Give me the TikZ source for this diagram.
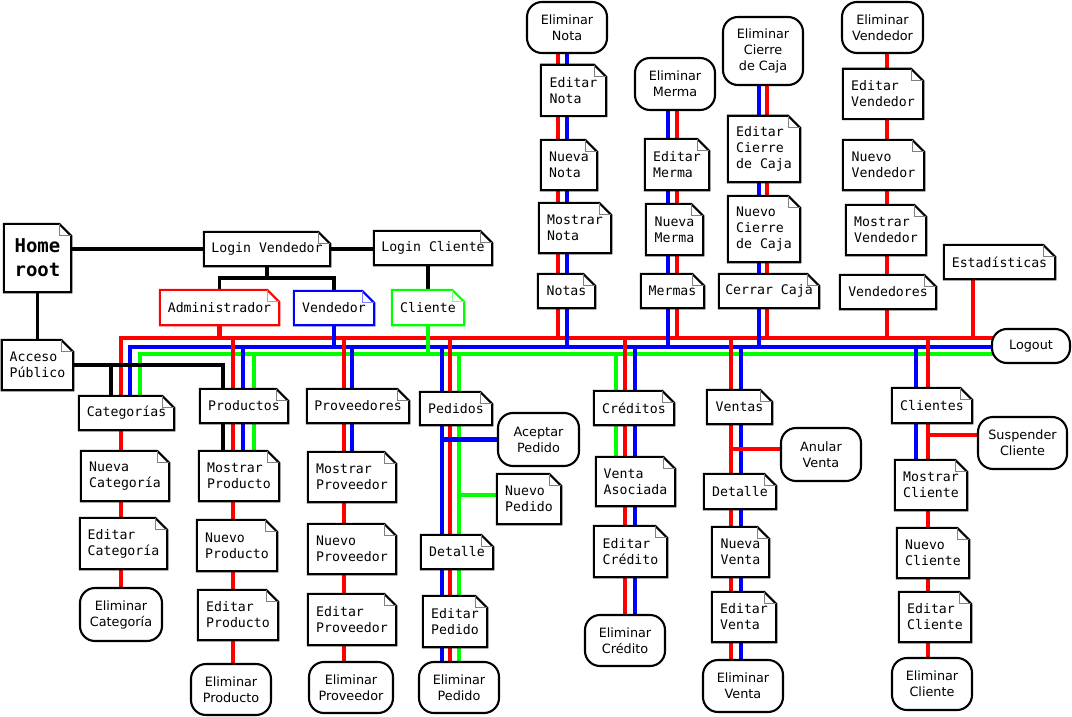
\documentclass[tikz,border=0pt]{standalone}
\usepackage{fontspec}
\setmonofont{DejaVu Sans Mono}
\setsansfont{DejaVu Sans}
\usepackage{tikz}
\usetikzlibrary{backgrounds}
\definecolor{wirered}{RGB}{255, 0, 0}
\definecolor{wireblue}{RGB}{0, 0, 255}
\definecolor{wiregreen}{RGB}{0, 255, 0}

\begin{document}
\begin{tikzpicture}[x=1pt, y=-1pt,
    page/.style={inner sep=2pt, align=left,
                 font=\ttfamily\fontsize{13.2}{16}\selectfont,
                 append after command={\pgfextra{
                   \draw[line width=2.1pt, draw=#1, fill=white, line join=miter]
                     (\tikzlastnode.south west) -- (\tikzlastnode.north west)
                     -- ([xshift=-12pt]\tikzlastnode.north east)
                     -- ([yshift=-12pt]\tikzlastnode.north east)
                     -- (\tikzlastnode.south east) -- cycle;
                   \draw[line width=0.8pt, draw=#1!50]
                     ([xshift=-12pt]\tikzlastnode.north east)
                     |- ([yshift=-12pt]\tikzlastnode.north east);}}},
    page/.default=black,
    endpage/.style={draw, line width=2.1pt, rounded corners=15pt, fill=white,
                    align=center, inner sep=2pt,
                    font=\sffamily\fontsize{12.8}{16}\selectfont},
    wh/.style 2 args={minimum width=#1pt, minimum height=#2pt},
    redwire/.style={draw=wirered, line width=4.4pt},
    bluewire/.style={draw=wireblue, line width=4.4pt},
    greenwire/.style={draw=wiregreen, line width=4.4pt},
    blackwire/.style={draw=black, line width=3.3pt}
]
    \useasboundingbox (0,0) rectangle (1072,717);

    % Entry and login
    \node[page, wh={67}{68}, align=center,
          font=\ttfamily\bfseries\fontsize{19}{24}\selectfont] (home) at (37.5,258) {Home\\root};
    \node[page, wh={126}{34}] (loginv) at (267,249) {Login Vendedor};
    \node[page, wh={118}{34}] (loginc) at (433,248) {Login Cliente};
    \node[page=wirered, wh={119}{35}] (admin) at (219.5,307.5) {Administrador};
    \node[page=wireblue, wh={80}{34}] (vend) at (334,308) {Vendedor};
    \node[page=wiregreen, wh={72}{35}] (cli) at (428,307.5) {Cliente};
    \node[page, wh={71}{50}] (acceso) at (37.5,365) {Acceso\\Público};
    \node[endpage, wh={78}{34}] (logout) at (1031,346) {Logout};

    % Categorias
    \node[page, wh={95}{34}] (cat) at (126.5,413) {Categorías};
    \node[page, wh={88}{50}] (catnew) at (125,476) {Nueva\\Categoría};
    \node[page, wh={87}{51}] (catedit) at (123.5,543.5) {Editar\\Categoría};
    \node[endpage, wh={82}{53}] (catdel) at (121,614.5) {Eliminar\\Categoría};

    % Productos
    \node[page, wh={88}{34}] (prod) at (244,406) {Productos};
    \node[page, wh={80}{50}] (prodshow) at (239,476) {Mostrar\\Producto};
    \node[page, wh={80}{51}] (prodnew) at (237,545.5) {Nuevo\\Producto};
    \node[page, wh={80}{50}] (prodedit) at (238,615) {Editar\\Producto};
    \node[endpage, wh={80}{51}] (proddel) at (231,689.5) {Eliminar\\Producto};

    % Proveedores
    \node[page, wh={102}{34}] (prov) at (358,406) {Proveedores};
    \node[page, wh={88}{50}] (provshow) at (352,477) {Mostrar\\Proveedor};
    \node[page, wh={88}{50}] (provnew) at (352,549) {Nuevo\\Proveedor};
    \node[page, wh={88}{51}] (provedit) at (352,619.5) {Editar\\Proveedor};
    \node[endpage, wh={84}{51}] (provdel) at (351,687.5) {Eliminar\\Proveedor};

    % Pedidos
    \node[page, wh={72}{33}] (ped) at (456,408.5) {Pedidos};
    \node[endpage, wh={81}{53}] (pedok) at (538.5,439.5) {Aceptar\\Pedido};
    \node[page, wh={64}{50}] (pednew) at (529,499) {Nuevo\\Pedido};
    \node[page, wh={72}{34}] (peddet) at (457,552) {Detalle};
    \node[page, wh={64}{51}] (pededit) at (455,621.5) {Editar\\Pedido};
    \node[endpage, wh={80}{51}] (peddel) at (459,687.5) {Eliminar\\Pedido};

    % Creditos
    \node[page, wh={80}{34}] (cred) at (634,408) {Créditos};
    \node[page, wh={79}{49}] (credvta) at (635.5,481.5) {Venta\\Asociada};
    \node[page, wh={73}{51}] (credit) at (630.5,551.5) {Editar\\Crédito};
    \node[endpage, wh={80}{51}] (creddel) at (625,640.5) {Eliminar\\Crédito};

    % Ventas
    \node[page, wh={65}{34}] (vta) at (739.5,407) {Ventas};
    \node[endpage, wh={80}{53}] (vtanul) at (821,454.5) {Anular\\Venta};
    \node[page, wh={72}{35}] (vtadet) at (740,491.5) {Detalle};
    \node[page, wh={57}{50}] (vtanew) at (740.5,552) {Nueva\\Venta};
    \node[page, wh={64}{50}] (vtaedit) at (744,617) {Editar\\Venta};
    \node[endpage, wh={80}{52}] (vtadel) at (743,686) {Eliminar\\Venta};

    % Clientes
    \node[page, wh={80}{35}] (clis) at (932,405.5) {Clientes};
    \node[endpage, wh={89}{52}] (clisusp) at (1022.5,443) {Suspender\\Cliente};
    \node[page, wh={72}{50}] (clishow) at (931,485) {Mostrar\\Cliente};
    \node[page, wh={72}{50}] (clinew) at (933,553) {Nuevo\\Cliente};
    \node[page, wh={72}{50}] (cliedit) at (935,617) {Editar\\Cliente};
    \node[endpage, wh={80}{52}] (clidel) at (932,684) {Eliminar\\Cliente};

    % Notas
    \node[page, wh={57}{34}] (notas) at (566.5,291) {Notas};
    \node[page, wh={72}{50}] (notashow) at (575,228) {Mostrar\\Nota};
    \node[page, wh={56}{50}] (notanew) at (569,165) {Nueva\\Nota};
    \node[page, wh={65}{51}] (notaedit) at (573.5,90.5) {Editar\\Nota};
    \node[endpage, wh={80}{51}] (notadel) at (567,27.5) {Eliminar\\Nota};

    % Mermas
    \node[page, wh={63}{34}] (mermas) at (672.5,291) {Mermas};
    \node[page, wh={57}{51}] (mermanew) at (674.5,229.5) {Nueva\\Merma};
    \node[page, wh={64}{51}] (mermaedit) at (677,164.5) {Editar\\Merma};
    \node[endpage, wh={80}{52}] (mermadel) at (675,84) {Eliminar\\Merma};

    % Cierre de caja
    \node[page, wh={100}{34}] (caja) at (769,291) {Cerrar Caja};
    \node[page, wh={72}{66}] (cajanew) at (764,229) {Nuevo\\Cierre\\de Caja};
    \node[page, wh={72}{66}] (cajaedit) at (764,149) {Editar\\Cierre\\de Caja};
    \node[endpage, wh={80}{68}] (cajadel) at (763,51) {Eliminar\\Cierre\\de Caja};

    % Vendedores
    \node[page, wh={96}{34}] (vends) at (888,292) {Vendedores};
    \node[page, wh={80}{50}] (vendshow) at (886,230) {Mostrar\\Vendedor};
    \node[page, wh={81}{50}] (vendnew) at (883.5,165) {Nuevo\\Vendedor};
    \node[page, wh={80}{50}] (vendedit) at (883,94) {Editar\\Vendedor};
    \node[endpage, wh={81}{51}] (venddel) at (882.5,27.5) {Eliminar\\Vendedor};

    \node[page, wh={111}{34}] (estad) at (999.5,262) {Estadísticas};

    \begin{scope}[on background layer]
    \fill[white] (0,0) rectangle (1072,717);

    % Buses
    \coordinate (rbus) at (121,338);
    \coordinate (bbus) at (130,347);
    \coordinate (gbus) at (140,354);
    \foreach \tap/\x in {prod/233, prov/344, ped/450, cred/625, vta/731, clis/928,
                         notas/558, mermas/677, caja/767, vends/887, estad/973}
        \coordinate (r\tap) at (\x,338);
    \foreach \tap/\x in {prod/243, prov/352, ped/442, cred/635, vta/741, clis/916,
                         notas/567, mermas/668, caja/759}
        \coordinate (b\tap) at (\x,347);
    \foreach \tap/\x in {prod/254, ped/459, cred/616}
        \coordinate (g\tap) at (\x,354);

    \draw[redwire] (rbus |- catdel) -- (rbus) -- (rbus -| logout);
    \draw[bluewire] (bbus |- cat) -- (bbus) -- (bbus -| logout);
    \draw[greenwire] (gbus |- cat) -- (gbus) -- (gbus -| logout);

    % Login
    \draw[blackwire] (home.east |- loginv) -- (loginv);
    \draw[blackwire] (loginv) -- (loginv -| loginc);
    \draw[blackwire] (home) -- (acceso);
    \coordinate (lvsplit) at (267,278);
    \draw[blackwire] (loginv) -- (lvsplit);
    \draw[blackwire] (admin) |- (lvsplit) -| (vend);
    \draw[blackwire] (cli) -- (cli |- loginc);
    \coordinate (pubsplit) at (111,365);
    \coordinate (pubend) at (223,365);
    \draw[blackwire] (acceso) -- (pubend) -- (pubend |- prodshow);
    \draw[blackwire] (pubsplit) -- (pubsplit |- cat);
    \draw[redwire] (admin) -- (admin |- rbus);
    \draw[bluewire] (vend) -- (vend |- bbus);
    \draw[greenwire] (cli) -- (cli |- gbus);

    % Lower columns
    \draw[redwire] (rprod) -- (rprod |- proddel);
    \draw[bluewire] (bprod) -- (bprod |- prodshow);
    \draw[greenwire] (gprod) -- (gprod |- prodshow);
    \draw[redwire] (rprov) -- (rprov |- provdel);
    \draw[bluewire] (bprov) -- (bprov |- provshow);
    \draw[bluewire] (bped) -- (bped |- peddel);
    \draw[redwire] (rped) -- (rped |- peddel);
    \draw[greenwire] (gped) -- (gped |- peddel);
    \draw[bluewire] (bped |- pedok.west) -- (pedok.west);
    \draw[greenwire] (gped |- pednew.173) -- (pednew.173);
    \draw[greenwire] (gcred) -- (gcred |- credvta);
    \draw[redwire] (rcred) -- (rcred |- creddel);
    \draw[bluewire] (bcred) -- (bcred |- creddel);
    \draw[redwire] (rvta) -- (rvta |- vtadel);
    \draw[bluewire] (bvta) -- (bvta |- vtadel);
    \draw[redwire] (rvta |- vtanul.172) -- (vtanul.172);
    \draw[bluewire] (bclis) -- (bclis |- clishow);
    \draw[redwire] (rclis) -- (rclis |- clidel);
    \draw[redwire] (rclis |- clisusp.170) -- (clisusp.170);

    % Upper columns
    \draw[redwire] (rnotas) -- (rnotas |- notadel);
    \draw[bluewire] (bnotas) -- (bnotas |- notadel);
    \draw[redwire] (rmermas) -- (rmermas |- mermadel);
    \draw[bluewire] (bmermas) -- (bmermas |- mermadel);
    \draw[redwire] (rcaja) -- (rcaja |- cajadel);
    \draw[bluewire] (bcaja) -- (bcaja |- cajadel);
    \draw[redwire] (rvends) -- (rvends |- venddel);
    \draw[redwire] (restad) -- (restad |- estad);
    \end{scope}
\end{tikzpicture}
\end{document}
